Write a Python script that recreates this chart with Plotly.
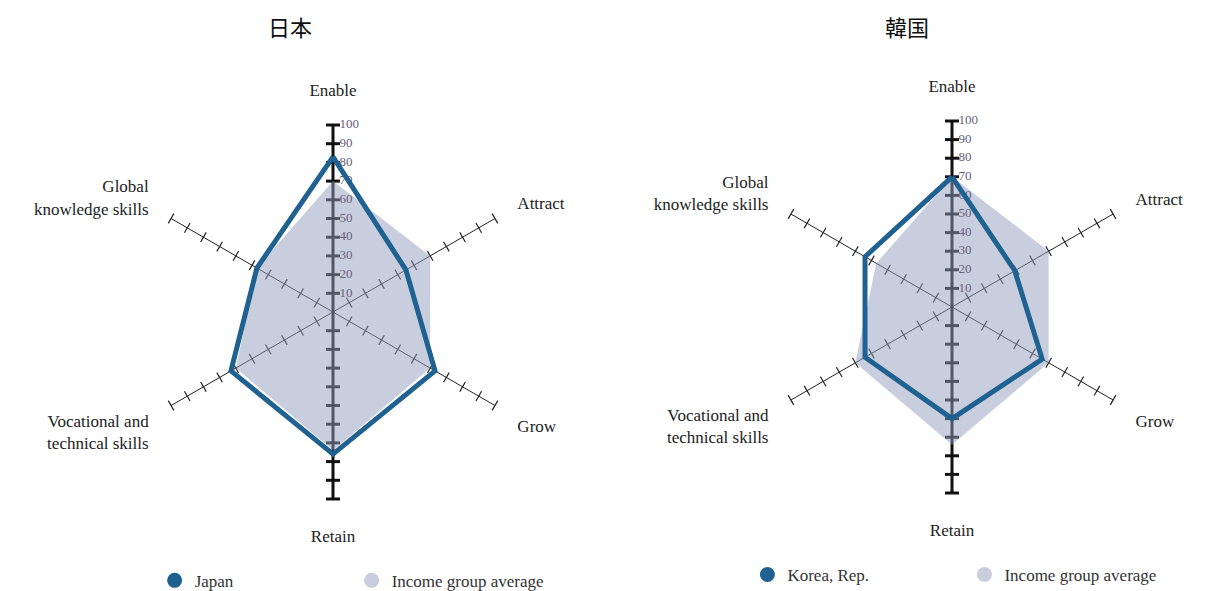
import plotly.graph_objects as go

# Talent competitiveness pillars (clockwise from top)
categories = ["Enable", "Attract", "Grow", "Retain",
              "Vocational and<br>technical skills", "Global<br>knowledge skills"]
japan_scores = [83, 45, 63, 76, 63, 47]
korea_scores = [70, 39, 56, 60, 54, 54]
income_avg = [70, 60, 60, 74, 60, 47]
scale_ticks = [10, 20, 30, 40, 50, 60, 70, 80, 90, 100]

BLUE = "#1f6190"
FILL = "rgba(147,157,189,0.5)"
SERIF = "Liberation Serif"
W, H = 1213, 591
OFF = 8  # page body margin


def px_x(x):
    return (x - OFF) / W


def px_y(y):
    return 1 - (y - OFF) / H


def domain(cx, cy, rad):
    return dict(x=[px_x(cx - rad), px_x(cx + rad)], y=[px_y(cy + rad), px_y(cy - rad)])


# bearing of each spoke, used to turn the tick dashes across the spoke
bearings = [i * 360 / len(categories) for i in range(len(categories))]

fig = go.Figure()


def add_radar(subplot, scores, name, legend):
    # small cross dashes on every spoke
    r, th, ang = [], [], []
    for cat, b in zip(categories, bearings):
        for t in scale_ticks:
            r.append(t)
            th.append(cat)
            ang.append(b)
    fig.add_trace(go.Scatterpolar(
        r=r, theta=th, mode="markers", subplot=subplot, showlegend=False,
        hoverinfo="skip",
        marker=dict(symbol="line-ew", size=8, angle=ang,
                    line=dict(color="#222", width=1.2))))
    # heavy vertical axis (Enable / Retain)
    fig.add_trace(go.Scatterpolar(
        r=[100, 0, 100], theta=[categories[0], categories[0], categories[3]],
        mode="lines", subplot=subplot, showlegend=False, hoverinfo="skip",
        line=dict(color="#111", width=3)))
    fig.add_trace(go.Scatterpolar(
        r=scale_ticks + scale_ticks,
        theta=[categories[0]] * 10 + [categories[3]] * 10,
        mode="markers", subplot=subplot, showlegend=False, hoverinfo="skip",
        marker=dict(symbol="line-ew", size=10, line=dict(color="#111", width=3))))
    # income group average
    fig.add_trace(go.Scatterpolar(
        r=income_avg + income_avg[:1], theta=categories + categories[:1],
        mode="lines", fill="toself", fillcolor=FILL, line=dict(width=0),
        subplot=subplot, showlegend=False))
    # scale numbers beside the Enable spoke
    fig.add_trace(go.Scatterpolar(
        r=scale_ticks, theta=[categories[0]] * 10, mode="text",
        text=["&nbsp;&nbsp;" + str(t) for t in scale_ticks],
        textposition="middle right",
        textfont=dict(family=SERIF, size=13, color="#66607a"),
        subplot=subplot, showlegend=False, hoverinfo="skip"))
    # country
    fig.add_trace(go.Scatterpolar(
        r=scores + scores[:1], theta=categories + categories[:1],
        mode="lines", line=dict(color=BLUE, width=5),
        subplot=subplot, showlegend=False))
    # legend entries
    fig.add_trace(go.Scatterpolar(
        r=[None], theta=[categories[0]], mode="markers", name=name,
        marker=dict(color=BLUE, size=15), subplot=subplot, legend=legend))
    fig.add_trace(go.Scatterpolar(
        r=[None], theta=[categories[0]], mode="markers",
        name="Income group average",
        marker=dict(color="#c9cede", size=15), subplot=subplot, legend=legend))


add_radar("polar", japan_scores, "Japan", "legend")
add_radar("polar2", korea_scores, "Korea, Rep.", "legend2")

polar_style = dict(
    bgcolor="white",
    radialaxis=dict(range=[0, 100], angle=90, showticklabels=False,
                    showgrid=False, showline=False, ticks="",
                    layer="below traces"),
    angularaxis=dict(direction="clockwise", rotation=90, showline=False,
                     showgrid=True, gridcolor="#222", gridwidth=1,
                     ticks="outside", ticklen=22, tickcolor="rgba(0,0,0,0)",
                     tickfont=dict(family=SERIF, size=17, color="#222"),
                     layer="below traces"),
)

legend_style = dict(orientation="h", xanchor="left", yanchor="middle",
                    entrywidthmode="pixels", bgcolor="rgba(0,0,0,0)",
                    font=dict(family=SERIF, size=17, color="#333"))

fig.update_layout(
    width=W, height=H,
    margin=dict(l=0, r=0, t=0, b=0),
    paper_bgcolor="white",
    polar=dict(domain=domain(333, 312, 187), **polar_style),
    polar2=dict(domain=domain(952, 307, 186), **polar_style),
    legend=dict(x=0.125 - 5 / W, y=0.024 + 4 / H, entrywidth=152, **legend_style),
    legend2=dict(x=0.617 - 9 / W, y=0.034 + 4 / H, entrywidth=172, **legend_style),
    annotations=[
        dict(text="日本", x=px_x(290), y=1, xref="paper", yref="paper",
             xanchor="center", yanchor="top", showarrow=False,
             font=dict(family="Noto Sans CJK JP", size=22, color="#111")),
        dict(text="韓国", x=px_x(907), y=1, xref="paper", yref="paper",
             xanchor="center", yanchor="top", showarrow=False,
             font=dict(family="Noto Sans CJK JP", size=22, color="#111")),
    ],
)

fig.write_html("out.html")
